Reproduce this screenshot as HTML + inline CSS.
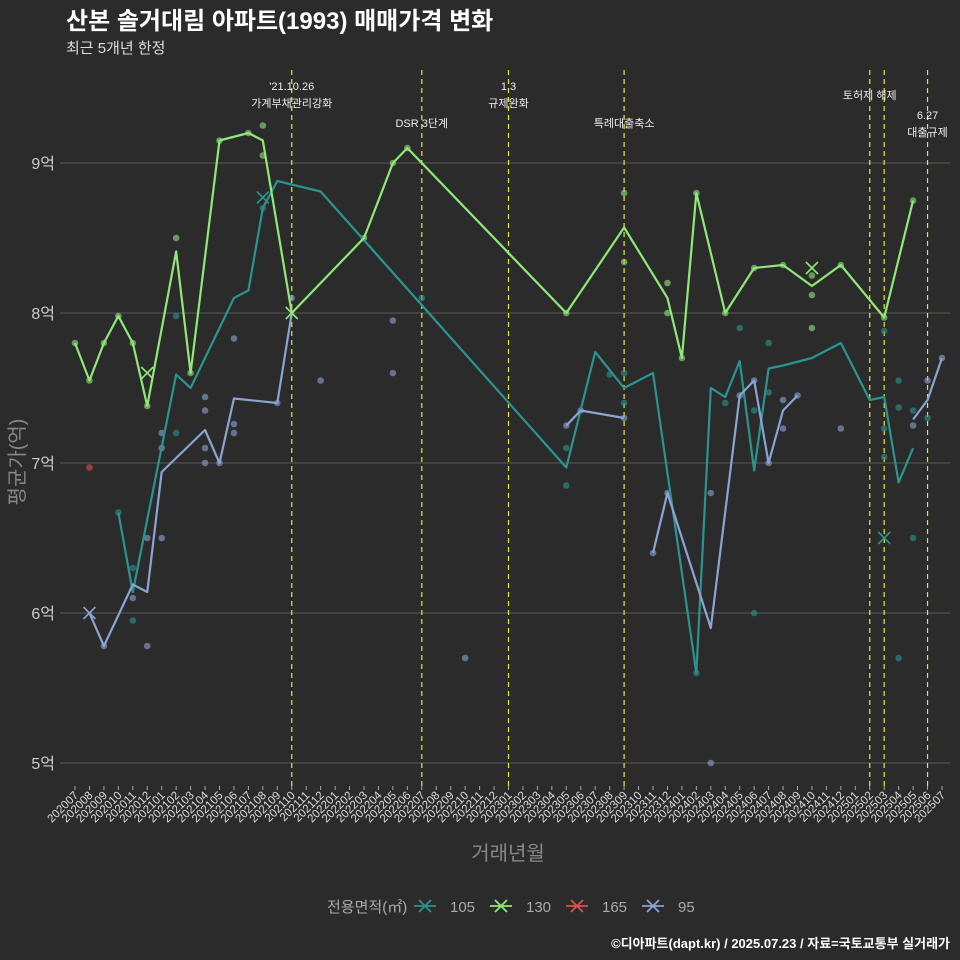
<!DOCTYPE html>
<html><head><meta charset="utf-8">
<style>
body{margin:0;background:#2b2b2b;}
svg{display:block;font-family:"Liberation Sans","Noto Sans CJK KR",sans-serif;}
</style></head>
<body>
<svg id="c" width="960" height="960" viewBox="0 0 960 960">
<rect width="960" height="960" fill="#2b2b2b"/>
<text x="66" y="29" fill="#fff" font-size="24" font-weight="bold">산본 솔거대림 아파트(1993) 매매가격 변화</text>
<text x="66" y="53" fill="#ddd" font-size="15">최근 5개년 한정</text>
<g id="grid"></g><g id="events"></g><g id="dots"></g><g id="lines"></g><g id="xt"></g>
<text transform="translate(24,462) rotate(-90)" text-anchor="middle" fill="#888" font-size="20">평균가(억)</text>
<text x="508" y="860" text-anchor="middle" fill="#888" font-size="20">거래년월</text>
<g id="legend"></g>
<text x="950" y="948" text-anchor="end" fill="#fff" font-size="13" font-weight="bold">©디아파트(dapt.kr) / 2025.07.23 / 자료=국토교통부 실거래가</text>
</svg>
<script>
const months=[];for(let y=2020,m=7;months.length<61;){months.push(y+String(m).padStart(2,'0'));m++;if(m>12){m=1;y++;}}
const yTicks=[5,6,7,8,9];
const yLabels=['5억','6억','7억','8억','9억'];
const s105=[null,null,null,6.67,6.14,null,null,7.59,7.50,7.70,null,8.10,8.15,8.70,8.88,null,null,8.81,null,null,null,null,null,null,null,null,null,null,null,null,null,null,null,null,6.97,null,7.74,null,7.50,null,7.60,null,null,5.60,7.50,7.44,7.68,6.95,7.63,7.65,null,7.70,null,7.80,null,7.42,7.44,6.87,7.10,null,null];
const s130=[7.80,7.55,7.80,7.98,7.80,7.38,null,8.41,7.60,null,9.15,null,9.20,9.15,null,8.00,null,null,null,null,8.50,null,9.00,9.10,null,null,null,null,null,null,null,null,null,null,8.00,null,null,null,8.57,null,null,8.10,7.70,8.80,null,8.00,null,8.30,null,8.32,null,8.18,null,8.32,null,null,7.97,null,8.75,null,null];
const s95=[null,6.00,5.78,null,6.19,6.14,6.94,null,null,7.22,7.00,7.43,null,null,7.40,8.00,'gap',null,null,null,null,null,null,null,null,null,null,null,null,null,null,null,null,null,7.25,7.35,null,null,7.30,'gap',6.40,6.80,null,null,5.90,null,7.45,7.55,7.00,7.35,7.45,'gap',null,null,null,null,null,null,7.29,7.42,7.70];
const d105=[[3,6.67],[4,6.30],[4,5.95],[7,7.98],[7,7.20],[13,8.70],[24,8.10],[34,7.10],[34,6.85],[37,7.59],[38,7.60],[38,7.40],[43,5.60],[45,7.40],[46,7.90],[47,7.35],[47,6.00],[48,7.80],[48,7.47],[56,7.88],[56,7.23],[56,7.04],[57,7.55],[57,7.37],[57,5.70],[58,7.35],[58,6.50],[59,7.30]];
const d130=[[0,7.80],[1,7.55],[2,7.80],[3,7.98],[4,7.80],[5,7.38],[7,8.50],[8,7.60],[10,9.15],[12,9.20],[13,9.25],[13,9.05],[20,8.50],[22,9.00],[23,9.10],[34,8.00],[38,8.80],[38,8.34],[41,8.20],[41,8.00],[42,7.70],[43,8.80],[45,8.00],[47,8.30],[49,8.32],[51,8.25],[51,8.12],[51,7.90],[53,8.32],[56,7.97],[58,8.75]];
const d95=[[2,5.78],[4,6.10],[5,5.78],[5,6.50],[6,7.20],[6,7.10],[6,6.50],[9,7.44],[9,7.35],[9,7.10],[9,7.00],[10,7.00],[11,7.83],[11,7.26],[11,7.20],[14,7.40],[15,8.10],[17,7.55],[22,7.95],[22,7.60],[27,5.70],[34,7.25],[35,7.35],[38,7.30],[40,6.40],[41,6.80],[44,6.80],[44,5.00],[46,7.45],[47,7.55],[48,7.00],[49,7.42],[49,7.23],[50,7.45],[53,7.23],[58,7.25],[59,7.55],[60,7.70]];
const d165=[[1,6.97]];
const xMarks=[['105',13,8.77],['105',56,6.50],['130',5,7.60],['130',51,8.30],['130',15,8.00],['95',1,6.00]];
const events=[[15,["'21.10.26","가계부채관리강화"],90],[24,["DSR 3단계"],127],[30,["1.3","규제완화"],90],[38,["특례대출축소"],127],[55,["토허제 해제"],99],[56,[],0],[59,["6.27","대출규제"],119]];
const X=i=>75+i*14.45, Y=v=>163+(9-v)*150;
const NS='http://www.w3.org/2000/svg';
function mk(p,t,a){const e=document.createElementNS(NS,t);for(const k in a)e.setAttribute(k,a[k]);document.getElementById(p).appendChild(e);return e;}
const col={'105':'#2a9590','130':'#90e878','165':'#e05050','95':'#8ba4d4'};
yTicks.forEach((v,k)=>{
 const l=mk('grid','line',{x1:60,x2:950,y1:Y(v),y2:Y(v),stroke:'#5a5a5a','stroke-width':1});
 
 const t=mk('grid','text',{x:55,y:Y(v)+6,'text-anchor':'end',fill:'#ccc','font-size':16});t.textContent=yLabels[k];
 
});
months.forEach((m,i)=>{
 const l=mk('xt','line',{x1:X(i),x2:X(i),y1:786,y2:790,stroke:'#aaa'});
 
 const t=mk('xt','text',{transform:`translate(${X(i)+4},796) rotate(-45)`,'text-anchor':'end',fill:'#ddd','font-size':11.5});t.textContent=m;
 
});
events.forEach(([i,lab,y0])=>{
 const l=mk('events','line',{x1:X(i),x2:X(i),y1:70,y2:786,stroke:'#e8e830','stroke-width':1.2,'stroke-dasharray':'5,4'});
 
 lab.forEach((s,k)=>{const t=mk('events','text',{x:X(i),y:y0+k*17,'text-anchor':'middle',fill:'#eee','font-size':11});t.textContent=s;
 });
});
[['105',d105],['130',d130],['95',d95],['165',d165]].forEach(([k,d])=>d.forEach(([i,v])=>{
 const c=mk('dots','circle',{cx:X(i),cy:Y(v),r:3.3,fill:col[k],'fill-opacity':0.6});
 
}));
[['105',s105],['130',s130],['95',s95]].forEach(([k,s])=>{
 let d='',pen=false;
 s.forEach((v,i)=>{if(v==='gap'){pen=false;return;}if(v===null)return;d+=(pen?'L':'M')+X(i)+','+Y(v);pen=true;});
 const p=mk('lines','path',{d,fill:'none',stroke:col[k],'stroke-width':2.2,'stroke-linejoin':'round'});
 
});
xMarks.forEach(([k,i,v])=>{
 const x=X(i),y=Y(v);
 const p=mk('lines','path',{d:`M${x-6},${y-6}L${x+6},${y+6}M${x-6},${y+6}L${x+6},${y-6}`,stroke:col[k],'stroke-width':1.6});
 
});
const lt=mk('legend','text',{x:327,y:912,fill:'#aaa','font-size':15});lt.textContent='전용면적(㎡)';

[['105',414],['130',490],['165',566],['95',642]].forEach(([k,x])=>{
 const p=mk('legend','path',{d:`M${x},906h22M${x+5},900l12,12M${x+5},912l12,-12`,stroke:col[k],'stroke-width':1.8});
 
 const t=mk('legend','text',{x:x+36,y:912,fill:'#aaa','font-size':15});t.textContent=k;
 
});
</script>
</body></html>
